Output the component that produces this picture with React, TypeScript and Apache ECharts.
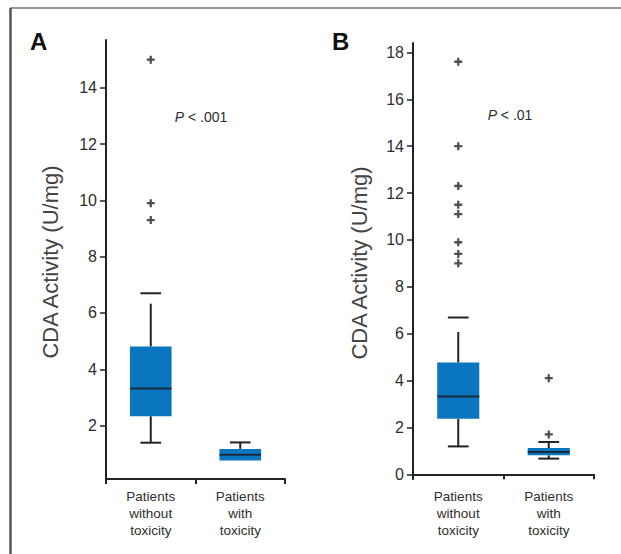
import React, { useEffect, useRef } from 'react';
import * as echarts from 'echarts';

const categories = ['Patients\nwithout\ntoxicity', 'Patients\nwith\ntoxicity'];
const yTicksA = [2, 4, 6, 8, 10, 12, 14];
const yTicksB = [0, 2, 4, 6, 8, 10, 12, 14, 16, 18];
// [lower whisker, Q1, median, Q3, upper whisker, upper cap]
const boxesA = [
  [1.39, 2.33, 3.32, 4.81, 6.33, 6.7],
  [0.76, 0.76, 0.96, 1.17, 1.4, 1.4],
];
const boxesB = [
  [1.19, 2.37, 3.32, 4.77, 6.07, 6.69],
  [0.67, 0.81, 0.95, 1.12, 1.38, 1.38],
];
const outliersA = [
  [0, 15.0],
  [0, 9.9],
  [0, 9.3],
];
const outliersB = [
  [0, 17.6],
  [0, 14.0],
  [0, 12.3],
  [0, 11.5],
  [0, 11.1],
  [0, 9.9],
  [0, 9.4],
  [0, 9.0],
  [1, 4.1],
  [1, 1.7],
];
const panelLetters = ['A', 'B'];
const pLabels = [' < .001', ' < .01'];
const yAxisTitle = 'CDA Activity (U/mg)';

const FONT = '"Liberation Sans", Arial, sans-serif';
const DARK = '#222';
const TEXT = '#2e2e2e';
const BLUE = '#0a76c0';
const PLUS = 'path://M3,0h2.4v3h3v2.4h-3v3h-2.4v-3h-3v-2.4h3z';

function renderBox(params: any, api: any) {
  const i = api.value(0);
  const low = api.value(1);
  const q1 = api.value(2);
  const med = api.value(3);
  const q3 = api.value(4);
  const high = api.value(5);
  const cap = api.value(6);
  const bandW = api.size([1, 0])[0];
  const boxW = bandW * 0.465;
  const capW = bandW * 0.23;
  const cx = api.coord([i, q1])[0];
  const yLow = api.coord([i, low])[1];
  const yQ1 = api.coord([i, q1])[1];
  const yMed = api.coord([i, med])[1];
  const yQ3 = api.coord([i, q3])[1];
  const yHigh = api.coord([i, high])[1];
  const yCap = api.coord([i, cap])[1];
  const lineStyle = { stroke: DARK, lineWidth: 2 };
  const children: any[] = [];
  if (low < q1) {
    children.push({ type: 'line', shape: { x1: cx, y1: yQ1, x2: cx, y2: yLow }, style: lineStyle });
    children.push({ type: 'line', shape: { x1: cx - capW / 2, y1: yLow, x2: cx + capW / 2, y2: yLow }, style: lineStyle });
  }
  children.push({ type: 'line', shape: { x1: cx, y1: yQ3, x2: cx, y2: yHigh }, style: lineStyle });
  children.push({ type: 'line', shape: { x1: cx - capW / 2, y1: yCap, x2: cx + capW / 2, y2: yCap }, style: lineStyle });
  children.push({ type: 'rect', shape: { x: cx - boxW / 2, y: yQ3, width: boxW, height: yQ1 - yQ3 }, style: { fill: BLUE } });
  children.push({ type: 'line', shape: { x1: cx - boxW / 2, y1: yMed, x2: cx + boxW / 2, y2: yMed }, style: { stroke: '#1a2b3c', lineWidth: 2 } });
  return { type: 'group', children };
}

export default function App() {
  const ref = useRef<HTMLDivElement>(null);
  useEffect(() => {
    if (!ref.current) return;
    const chart = echarts.init(ref.current, undefined, { renderer: 'svg' });
    const grids = [
      { left: 106, right: 336, top: 40, bottom: 75 },
      { left: 413, right: 27, top: 43, bottom: 75 },
    ];
    const yRanges = [
      { min: 0.1, max: 15.7, ticks: yTicksA },
      { min: -0.2, max: 18.4, ticks: yTicksB },
    ];
    const axisLine = { show: true, lineStyle: { color: DARK, width: 2 } };
    const option: any = {
      animation: false,
      backgroundColor: '#fff',
      grid: grids,
      xAxis: grids.map((_, k) => ({
        type: 'category',
        gridIndex: k,
        data: categories,
        boundaryGap: true,
        axisLine,
        axisTick: { show: true, inside: false, length: 5, lineStyle: { color: DARK, width: 2 } },
        axisLabel: { color: TEXT, fontFamily: FONT, fontSize: 13.5, lineHeight: 17, margin: 9 },
        splitLine: { show: false },
      })),
      yAxis: yRanges.map((r, k) => ({
        type: 'value',
        gridIndex: k,
        position: 'left',
        min: r.min,
        max: r.max,
        axisLine,
        axisTick: { show: true, inside: false, length: 6, lineStyle: { color: DARK, width: 1.5 }, customValues: r.ticks },
        axisLabel: { color: TEXT, fontFamily: FONT, fontSize: 16, margin: 9, customValues: r.ticks },
        splitLine: { show: false },
      })),
      series: [
        {
          type: 'custom',
          xAxisIndex: 0,
          yAxisIndex: 0,
          renderItem: renderBox,
          encode: { x: 0, y: [1, 2, 3, 4, 5, 6] },
          data: boxesA.map((b, i) => [i, ...b]),
          z: 2,
        },
        {
          type: 'custom',
          xAxisIndex: 1,
          yAxisIndex: 1,
          renderItem: renderBox,
          encode: { x: 0, y: [1, 2, 3, 4, 5, 6] },
          data: boxesB.map((b, i) => [i, ...b]),
          z: 2,
        },
        {
          type: 'scatter',
          xAxisIndex: 0,
          yAxisIndex: 0,
          symbol: PLUS,
          symbolSize: 8,
          itemStyle: { color: DARK },
          data: outliersA,
          z: 3,
        },
        {
          type: 'scatter',
          xAxisIndex: 1,
          yAxisIndex: 1,
          symbol: PLUS,
          symbolSize: 8,
          itemStyle: { color: DARK },
          data: outliersB,
          z: 3,
        },
      ],
      graphic: [
        { type: 'line', shape: { x1: 10, y1: 8, x2: 621, y2: 8 }, style: { stroke: '#999', lineWidth: 2 } },
        { type: 'line', shape: { x1: 10.5, y1: 8, x2: 10.5, y2: 554 }, style: { stroke: '#555', lineWidth: 2.5 } },
        {
          type: 'text', x: 30, y: 29,
          style: { text: panelLetters[0], font: `bold 24px ${FONT}`, fill: '#111' },
        },
        {
          type: 'text', x: 332, y: 29,
          style: { text: panelLetters[1], font: `bold 24px ${FONT}`, fill: '#111' },
        },
        {
          type: 'text', x: 201, y: 117,
          style: {
            text: `{i|P}${pLabels[0]}`,
            fontFamily: FONT, fontSize: 14, fill: TEXT,
            align: 'center', verticalAlign: 'middle',
            rich: { i: { fontStyle: 'italic', fontFamily: FONT, fontSize: 14, fill: TEXT } },
          },
        },
        {
          type: 'text', x: 510, y: 115,
          style: {
            text: `{i|P}${pLabels[1]}`,
            fontFamily: FONT, fontSize: 14, fill: TEXT,
            align: 'center', verticalAlign: 'middle',
            rich: { i: { fontStyle: 'italic', fontFamily: FONT, fontSize: 14, fill: TEXT } },
          },
        },
        {
          type: 'text', x: 50, y: 262, rotation: Math.PI / 2,
          style: { text: yAxisTitle, fontFamily: FONT, fontSize: 22, fill: '#444', align: 'center', verticalAlign: 'middle' },
        },
        {
          type: 'text', x: 359, y: 263, rotation: Math.PI / 2,
          style: { text: yAxisTitle, fontFamily: FONT, fontSize: 22, fill: '#444', align: 'center', verticalAlign: 'middle' },
        },
      ],
    };
    chart.setOption(option);
    return () => chart.dispose();
  }, []);
  return (
    <div
      ref={ref}
      style={{ position: 'fixed', left: 0, top: 0, width: 621, height: 554, background: '#fff' }}
    />
  );
}
